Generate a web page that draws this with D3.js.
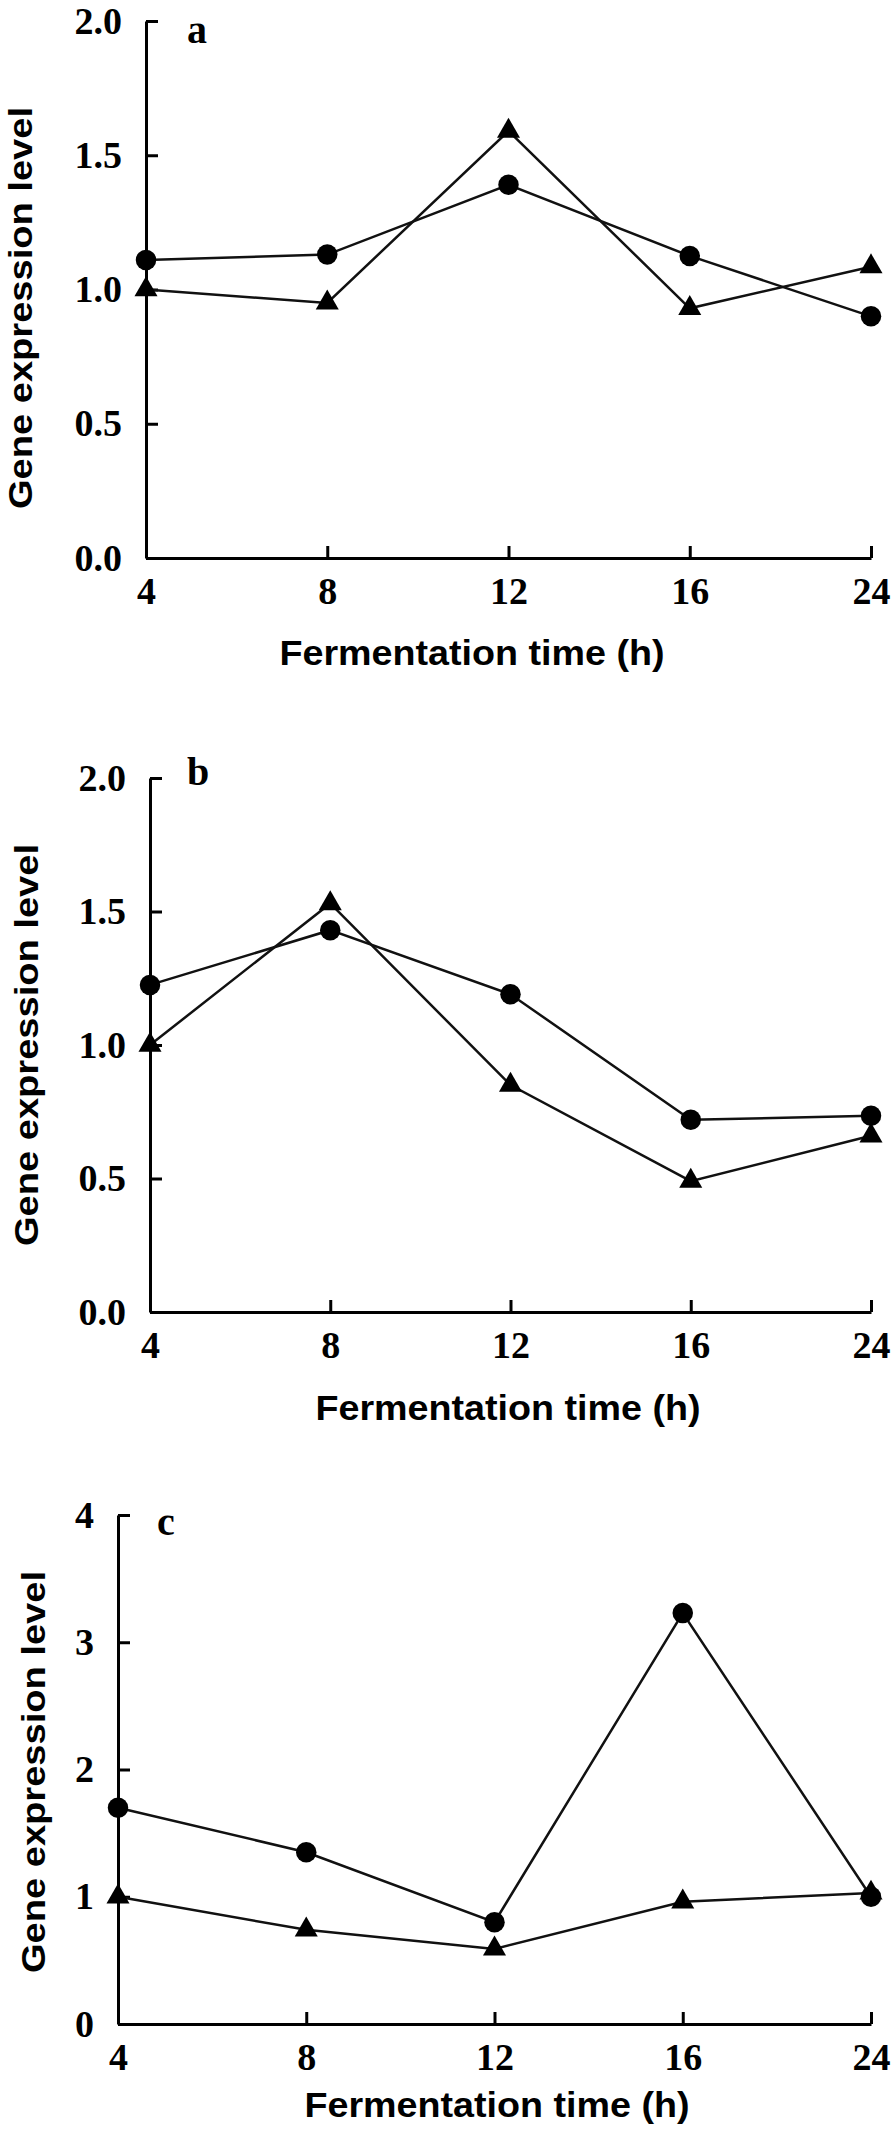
<!DOCTYPE html>
<html>
<head>
<meta charset="utf-8">
<script src="https://cdn.jsdelivr.net/npm/d3@7"></script>
<style>
  html, body { margin: 0; padding: 0; background: #fff; }
  svg { display: block; }
</style>
</head>
<body>
<script>
// ---- data ----
const categories = ["4", "8", "12", "16", "24"];
const yTicksAB = [0, 0.5, 1.0, 1.5, 2.0];
const yTicksC = [0, 1, 2, 3, 4];
const panelLetters = ["a", "b", "c"];
const xTitle = "Fermentation time (h)";
const yTitle = "Gene expression level";

const aCircle   = [1.11, 1.13, 1.39, 1.125, 0.90];
const aTriangle = [1.00, 0.95, 1.59, 0.93, 1.085];
const bCircle   = [1.225, 1.43, 1.19, 0.72, 0.735];
const bTriangle = [1.00, 1.53, 0.85, 0.49, 0.66];
const cCircle   = [1.70, 1.35, 0.80, 3.23, 1.00];
const cTriangle = [1.00, 0.74, 0.59, 0.96, 1.03];

// ---- layout ----
const W = 896, H = 2143;
const panels = [
  { letter: panelLetters[0], circle: aCircle, triangle: aTriangle, ticks: yTicksAB, fmt: d3.format(".1f"), yMax: 2,
    x0: 146, x1: 871, yTop: 21, yBot: 558, xTitleX: 472, xTitleY: 665, yTitleX: 20, yTitleY: 308, letterX: 187, letterY: 43 },
  { letter: panelLetters[1], circle: bCircle, triangle: bTriangle, ticks: yTicksAB, fmt: d3.format(".1f"), yMax: 2,
    x0: 150, x1: 871, yTop: 778, yBot: 1312, xTitleX: 508, xTitleY: 1420, yTitleX: 26, yTitleY: 1045, letterX: 187, letterY: 785 },
  { letter: panelLetters[2], circle: cCircle, triangle: cTriangle, ticks: yTicksC, fmt: d3.format("d"), yMax: 4,
    x0: 118, x1: 871, yTop: 1515, yBot: 2024, xTitleX: 497, xTitleY: 2117, yTitleX: 33, yTitleY: 1772, letterX: 157, letterY: 1535 }
];

const svg = d3.select("body").append("svg")
  .attr("width", W).attr("height", H)
  .attr("viewBox", `0 0 ${W} ${H}`);
svg.append("rect").attr("width", W).attr("height", H).attr("fill", "#fff");

const serif = "'Liberation Serif', 'Times New Roman', serif";
const sans = "'Liberation Sans', Arial, sans-serif";

panels.forEach(p => {
  const g = svg.append("g");
  const x = d3.scalePoint().domain(categories).range([p.x0, p.x1]);
  const y = d3.scaleLinear().domain([0, p.yMax]).range([p.yBot, p.yTop]);

  // y axis
  const ya = g.append("g").attr("transform", `translate(${p.x0},0)`)
    .call(d3.axisLeft(y).tickValues(p.ticks).tickFormat(p.fmt)
      .tickSizeInner(-12).tickSizeOuter(0).tickPadding(24));
  // x axis
  const xa = g.append("g").attr("transform", `translate(0,${p.yBot})`)
    .call(d3.axisBottom(x).tickSizeInner(-12).tickSizeOuter(0).tickPadding(19));

  [ya, xa].forEach(a => {
    a.selectAll("path.domain").attr("stroke", "#000").attr("stroke-width", 3);
    a.selectAll(".tick line").attr("stroke", "#000").attr("stroke-width", 3);
    a.selectAll(".tick text").attr("fill", "#000")
      .style("font-family", serif).style("font-size", "38px").style("font-weight", "bold");
  });

  // lines
  const line = d3.line().x((d, i) => x(categories[i])).y(d => y(d));
  [p.triangle, p.circle].forEach(s => {
    g.append("path").datum(s).attr("d", line)
      .attr("fill", "none").attr("stroke", "#111").attr("stroke-width", 2.5)
      .attr("stroke-linejoin", "miter");
  });

  // markers
  const tri = d3.symbol().type(d3.symbolTriangle).size(230);
  const cir = d3.symbol().type(d3.symbolCircle).size(330);
  g.selectAll(".tri").data(p.triangle).enter().append("path")
    .attr("d", tri)
    .attr("transform", (d, i) => `translate(${x(categories[i])},${y(d)})`)
    .attr("fill", "#000");
  g.selectAll(".cir").data(p.circle).enter().append("path")
    .attr("d", cir)
    .attr("transform", (d, i) => `translate(${x(categories[i])},${y(d)})`)
    .attr("fill", "#000");

  // panel letter
  g.append("text").attr("x", p.letterX).attr("y", p.letterY)
    .text(p.letter)
    .style("font-family", serif).style("font-size", "40px").style("font-weight", "bold");

  // x title
  g.append("text").attr("x", p.xTitleX).attr("y", p.xTitleY)
    .attr("text-anchor", "middle")
    .attr("textLength", 385).attr("lengthAdjust", "spacingAndGlyphs")
    .text(xTitle)
    .style("font-family", sans).style("font-size", "35px").style("font-weight", "bold");

  // y title
  g.append("text")
    .attr("transform", `translate(${p.yTitleX},${p.yTitleY}) rotate(-90)`)
    .attr("text-anchor", "middle").attr("dy", "0.35em")
    .attr("textLength", 402).attr("lengthAdjust", "spacingAndGlyphs")
    .text(yTitle)
    .style("font-family", sans).style("font-size", "34px").style("font-weight", "bold");
});
</script>
</body>
</html>
